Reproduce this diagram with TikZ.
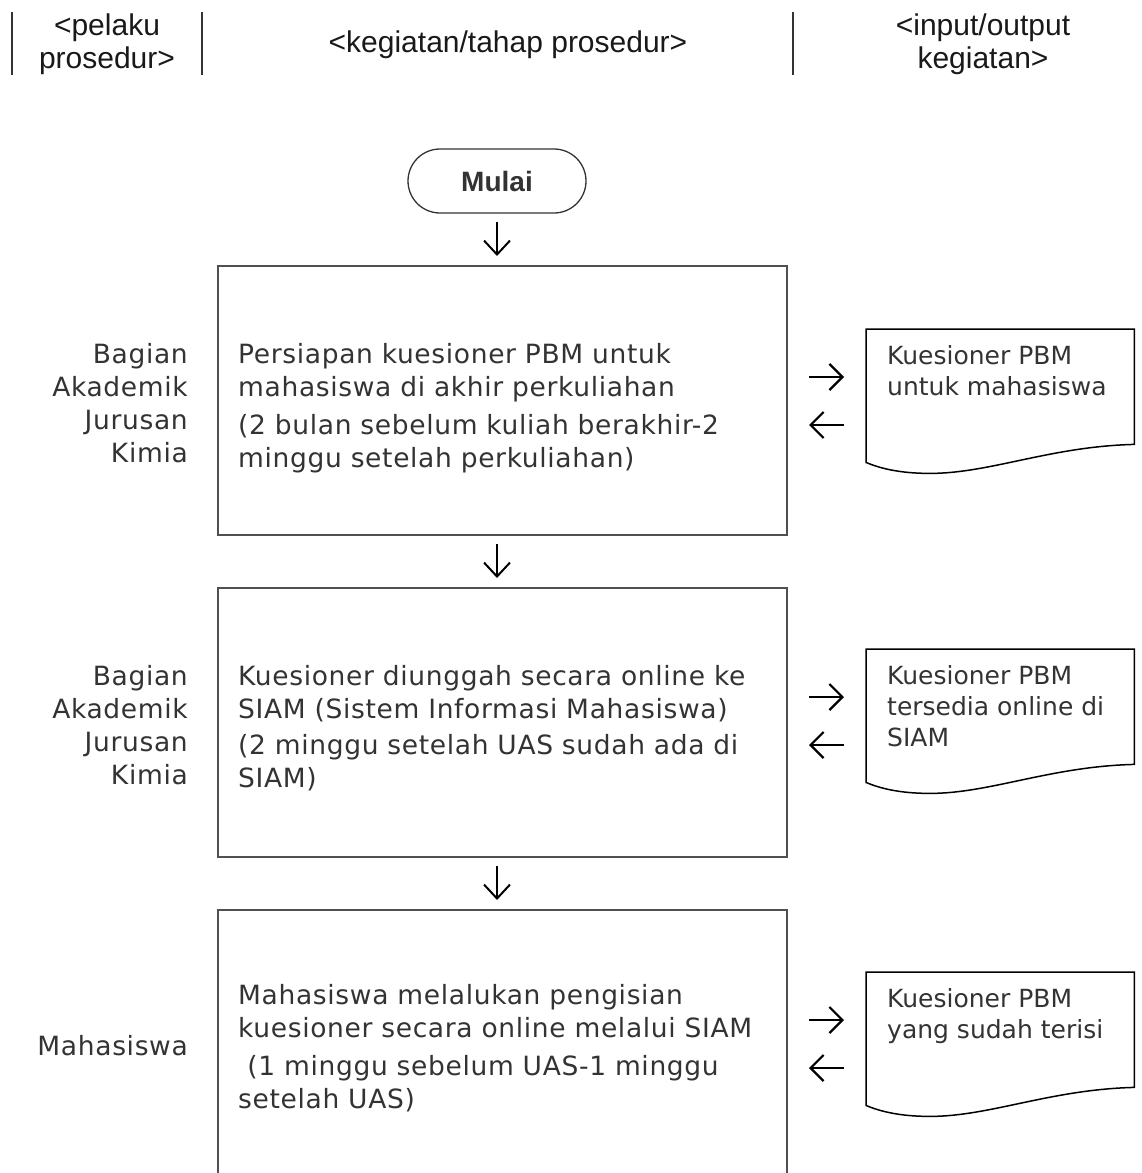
\documentclass[tikz,border=0pt]{standalone}
\usepackage{fontspec}
\setmainfont{DejaVu Sans}
\newfontfamily\hdrfont{Liberation Sans}
\newfontfamily\spfont[LetterSpace=2.5]{DejaVu Sans}
\usetikzlibrary{arrows.meta}
\definecolor{txt}{HTML}{333333}
\definecolor{frame}{HTML}{505050}
\begin{document}
\begin{tikzpicture}[x=1pt,y=-1pt,
 hdr/.style={font=\hdrfont\fontsize{30}{33}\selectfont, text=black!90, align=center, inner sep=0},
 hsep/.style={line width=1.3pt, draw=black!80},
 startbox/.style={draw=black!80, line width=1.3pt, rounded corners=32pt, minimum width=178pt, minimum height=64pt, font=\hdrfont\bfseries\fontsize{28}{33}\selectfont, text=txt},
 stepbox/.style={draw=frame, line width=2pt, anchor=north west, minimum width=569pt, minimum height=269pt, inner sep=0},
 boxtext/.style={anchor=north west, inner sep=0, text width=545pt, align=left, font=\spfont\fontsize{26.5}{33}\selectfont, text=txt},
 role/.style={anchor=north east, inner sep=0, align=right, font=\spfont\fontsize{26.5}{33}\selectfont, text=txt},
 docshape/.style={anchor=north west, minimum width=268pt, minimum height=133pt, inner sep=0},
 docline/.style={draw=black, line width=1.5pt},
 doctext/.style={anchor=north west, inner sep=0, align=left, font=\fontsize{25}{31}\selectfont, text=txt},
 flow/.style={line width=2pt, -{Straight Barb[length=14pt,width=26pt]}, shorten <=8pt, shorten >=9pt},
 side/.style={line width=2.2pt, -{Straight Barb[length=13pt,width=26pt]}}
]
\useasboundingbox (0,0) rectangle (1142,1173);
\clip (0,0) rectangle (1142,1173);

% header
\draw[hsep] (12,12) -- (12,75);
\draw[hsep] (202,12) -- (202,75);
\draw[hsep] (793,12) -- (793,75);
\node[hdr] (h1) at (107,44) {<pelaku\\prosedur>};
\node[hdr] (h2) at (508,45) {<kegiatan/tahap prosedur>};
\node[hdr] (h3) at (983,44) {<input/output\\kegiatan>};

% start
\node[startbox] (start) at (497,181) {Mulai};

% process boxes
\node[stepbox] (b1) at (217,265) {};
\node[stepbox] (b2) at (217,587) {};
\node[stepbox, minimum height=300pt] (b3) at (217,909) {};

\node[boxtext] (t1) at (238,343) {Persiapan kuesioner PBM untuk\\
mahasiswa di akhir perkuliahan\\[5pt]
(2 bulan sebelum kuliah berakhir-2\\
minggu setelah perkuliahan)};
\node[boxtext] (t2) at (238,665) {Kuesioner diunggah secara online ke\\
SIAM (Sistem Informasi Mahasiswa)\\[3pt]
(2 minggu setelah UAS sudah ada di\\
SIAM)};
\node[boxtext] (t3) at (238,984) {Mahasiswa melalukan pengisian\\
kuesioner secara online melalui SIAM\\[5pt]
\hspace*{0.35em}(1 minggu sebelum UAS-1 minggu\\
setelah UAS)};

% actors
\node[role] (r1) at (188,343) {Bagian\\Akademik\\Jurusan\\Kimia};
\node[role] (r2) at (188,665) {Bagian\\Akademik\\Jurusan\\Kimia};
\node[role, anchor=east] (r3) at (188,1046) {Mahasiswa};

% documents
\node[docshape] (d1) at (866,329) {};
\node[docshape] (d2) at (866,649) {};
\node[docshape] (d3) at (866,972) {};
\foreach \d in {d1,d2,d3} {
  \draw[docline] (\d.north west) -- (\d.north east) -- ([yshift=18pt]\d.south east)
    .. controls +(-84,2) and +(60,0) .. ([xshift=64pt,yshift=-11pt]\d.south west)
    .. controls +(-30,0) and +(14,6) .. (\d.south west) -- cycle;
}
\node[doctext] (dt1) at ([xshift=21pt,yshift=-16pt]d1.north west) {Kuesioner PBM\\untuk mahasiswa};
\node[doctext] (dt2) at ([xshift=21pt,yshift=-16pt]d2.north west) {Kuesioner PBM\\tersedia online di\\SIAM};
\node[doctext] (dt3) at ([xshift=21pt,yshift=-16pt]d3.north west) {Kuesioner PBM\\yang sudah terisi};

% flow connectors
\draw[flow] (start.south) -- (start.south |- b1.north);
\draw[flow] (b1.south -| start.south) -- (b2.north -| start.south);
\draw[flow] (b2.south -| start.south) -- (b3.north -| start.south);

% side connectors
\foreach \b/\d in {b1/d1,b2/d2,b3/d3} {
  \coordinate (\d o) at ([yshift=-48pt]\d.north west);
  \coordinate (\d i) at ([yshift=-96pt]\d.north west);
  \draw[side, shorten <=21pt, shorten >=22pt] (\b.east |- \d o) -- (\d o);
  \draw[side, shorten <=22pt, shorten >=21pt] (\d i) -- (\b.east |- \d i);
}
\end{tikzpicture}
\end{document}
